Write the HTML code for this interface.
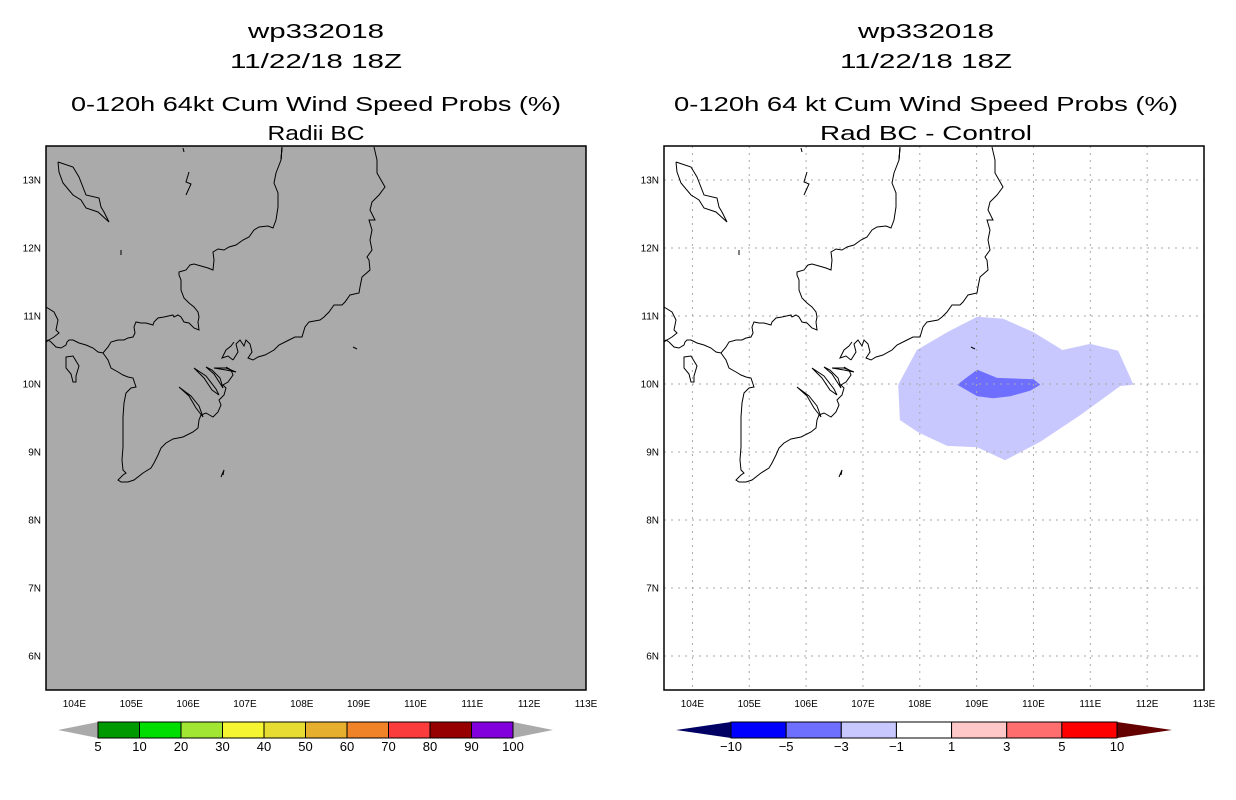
<!DOCTYPE html>
<html><head><meta charset="utf-8"><style>
body{margin:0;background:#fff;}
svg{display:block;font-family:"Liberation Sans",sans-serif;}
</style></head><body>
<svg id="chart" width="1236" height="800" viewBox="0 0 1236 800" xmlns="http://www.w3.org/2000/svg">
<defs>
<g id="coast" fill="none" stroke="#000" stroke-width="1">
<path d="M236,1 235,14 230,27 228,37 232,47 232,61 230,74 227,82 222,80 213,81 208,84 203,91 197,94 190,99 183,101 178,104 172,103 167,106 168,114 167,124 162,122 155,120 148,118 144,119 140,124 133,126 133,129 135,134 135,144 138,152 143,157 148,161 152,166 153,171 152,176 153,184 148,182 143,177 138,176 135,171 132,169 128,171 127,169 118,171 112,172 108,176 107,179 100,177 95,177 90,176 88,181 89,187 87,191 82,192 78,194 72,194 65,196 62,201 57,207 52,206 47,202 40,199 33,197 27,194 23,194 21,196 20,199 15,202 10,201 5,196 2,194 0,196"/>
<path d="M0,161 8,166 12,174 10,184 13,187 8,191 3,194 0,196"/>
<path d="M57,207 62,214 65,222 72,226 77,229 82,231 87,232 90,241 85,242 80,247 78,257 77,271 77,284 77,301 76,314 77,324 80,327 77,329 72,334 75,336 82,336 88,334 97,327 105,322 108,317 112,309 115,302 120,297 127,293 137,291 147,286 152,282 153,274 155,269 160,267 167,271 172,266 175,259 173,254 178,249 180,242 177,239 182,236 187,229 185,224 180,221"/>
<path d="M187,214 192,206 190,198 194,194 198,200 200,194 204,198 206,206 202,212 207,214 212,211 219,209 228,204 233,199 243,194 249,191 256,191 259,181 263,176 274,174 278,171 283,166 288,159 296,159 299,156 304,149 313,147 314,141 316,131 324,124 323,114 321,111 326,104 324,94 326,84 323,74 329,74 324,64 326,56 333,49 339,41 331,27 331,14 328,1"/>
<path d="M187,214 182,210 176,212 180,204 185,200 188,196"/>
<path d="M148,222 158,232 166,244 173,249 170,243 160,230 148,222Z"/>
<path d="M160,221 168,228 177,242 174,232 166,224 160,221Z"/>
<path d="M133,241 143,250 150,262 157,271 153,260 145,250 133,241Z"/>
<path d="M168,222 180,224 190,226 180,222Z"/>
<path d="M236,1 235,14"/>
<path d="M12,16 27,21 33,31 40,49 53,52 55,61 58,66 63,76 52,66 40,62 35,54 27,49 17,37 13,26 12,16"/>
<path d="M143,26 140,36 145,38 140,49"/>
<path d="M137,2 138,6"/>
<path d="M75,104 75,109"/>
<path d="M175,331 178,324 177,329"/>
<path d="M20,211 27,210 33,220 30,230 30,236 27,236 25,228 20,222 20,216Z"/>
<path d="M307,201 311,203"/>
<path d="M236,1 235,14"/>
</g>
</defs>
<g id="root"></g>
</svg>
<script>
// Map extent
const lonMin = 103.5, lonMax = 113, latMin = 5.5, latMax = 13.5;
const lonTicks = [104,105,106,107,108,109,110,111,112,113];
const latTicks = [6,7,8,9,10,11,12,13];
// Difference contours (lon, lat)
const contourMinus1Lon = [109.01,109.47,110.0,110.51,111.0,111.49,111.76,111.53,110.82,110.12,109.5,109.01,108.48,107.97,107.65,107.62,107.95,108.48];
const contourMinus1Lat = [10.99,10.96,10.76,10.5,10.59,10.49,9.99,9.97,9.54,9.15,8.88,9.07,9.09,9.29,9.47,9.99,10.5,10.76];
const contourMinus3Lon = [109.01,109.36,110.0,110.12,109.94,109.59,109.29,109.01,108.66,108.83];
const contourMinus3Lat = [10.21,10.09,10.07,9.99,9.9,9.82,9.79,9.82,9.99,10.1];
// Colorbars
const leftBarLabels = ["5","10","20","30","40","50","60","70","80","90","100"];
const leftBarColors = ["#009900","#00dd00","#a0e632","#f5f532","#e6dc32","#e6af2d","#f08228","#fa3c3c","#960000","#8200dc"];
const rightBarLabels = ["\u221210","\u22125","\u22123","\u22121","1","3","5","10"];
const rightBarColors = ["#0000ff","#6e6eff","#c8c8ff","#ffffff","#ffc8c8","#ff6e6e","#ff0000"];

const NS = "http://www.w3.org/2000/svg";
const root = document.getElementById('root');
function mk(tag, attrs, parent){const e=document.createElementNS(NS,tag);for(const k in attrs)e.setAttribute(k,attrs[k]);(parent||root).appendChild(e);return e;}
const PW = 540, PH = 544;
function xs(lon){return (lon-lonMin)/(lonMax-lonMin)*PW;}
function ys(lat){return (latMax-lat)/(latMax-latMin)*PH;}

function title(lines, cx, parentName){
  const ys_=[38,68,111,140];
  lines.forEach((l,i)=>{
    const t=mk('text',{x:cx,y:ys_[i],'text-anchor':'middle','font-size':20,fill:'#000',textLength:l[1],lengthAdjust:'spacingAndGlyphs'});
    t.textContent=l[0];
    
    
  });
}

function panel(px, py, name, bg, grid){
  const g=mk('g',{transform:`translate(${px},${py})`});
  
  
  const bgR=mk('rect',{x:0,y:0,width:PW,height:PH,fill:bg},g);
  
  
  return g;
}

function axes(g, px, py, name, grid){
  if(grid){
    lonTicks.slice(0,-1).forEach(v=>{const l=mk('line',{x1:xs(v),x2:xs(v),y1:0,y2:PH,stroke:'#aaa','stroke-dasharray':'2,5'},g);
      
      });
    latTicks.forEach(v=>{const l=mk('line',{x1:0,x2:PW,y1:ys(v),y2:ys(v),stroke:'#aaa','stroke-dasharray':'2,5'},g);
      
      });
  }
  const c=mk('use',{href:'#coast'},g);
  
  
  const b=mk('rect',{x:0,y:0,width:PW,height:PH,fill:'none',stroke:'#000','stroke-width':1.5},g);
  
  
  latTicks.forEach(v=>{const t=mk('text',{x:px-5,y:py+ys(v)+3.5,'text-anchor':'end','font-size':10,fill:'#000'});t.textContent=v+'N';
    
    });
  lonTicks.forEach(v=>{const t=mk('text',{x:px+xs(v),y:py+PH+17,'text-anchor':'middle','font-size':10,fill:'#000'});t.textContent=v+'E';
    
    });
}

function poly(g, lons, lats, fill, name){
  const pts=lons.map((v,i)=>xs(v).toFixed(1)+','+ys(lats[i]).toFixed(1)).join(' ');
  const p=mk('polygon',{points:pts,fill:fill},g);
  
  
}

function colorbar(x0, x1, y0, y1, tipL, tipR, colors, labels, lc, rc, name){
  const g=mk('g',{});
  
  
  const ym=(y0+y1)/2, w=(x1-x0)/colors.length;
  const tl=mk('polygon',{points:`${tipL},${ym} ${x0},${y0} ${x0},${y1}`,fill:lc},g);
  
  
  const tr=mk('polygon',{points:`${tipR},${ym} ${x1},${y0} ${x1},${y1}`,fill:rc},g);
  
  
  colors.forEach((c,i)=>{const r=mk('rect',{x:x0+i*w,y:y0,width:w,height:y1-y0,fill:c,stroke:'#000','stroke-width':1},g);
    
    });
  labels.forEach((l,i)=>{const t=mk('text',{x:x0+i*w,y:y1+13,'text-anchor':'middle','font-size':13,fill:'#000'},g);t.textContent=l;
    
    });
}

// Left panel
title([["wp332018",136],["11/22/18 18Z",172],["0-120h 64kt Cum Wind Speed Probs (%)",490],["Radii BC",97]],316,'left');
const gl=panel(46,146,'left-map','#aaaaaa');
axes(gl,46,146,'left-map',false);
colorbar(98,513,722,738,58,553,leftBarColors,leftBarLabels,'#aaaaaa','#aaaaaa','left-colorbar');

// Right panel
title([["wp332018",136],["11/22/18 18Z",172],["0-120h 64 kt Cum Wind Speed Probs (%)",504],["Rad BC - Control",212]],926,'right');
const gr=panel(664,146,'right-map','#ffffff');
poly(gr,contourMinus1Lon,contourMinus1Lat,'#c8c8ff','contour-minus-1');
poly(gr,contourMinus3Lon,contourMinus3Lat,'#6e6eff','contour-minus-3');
axes(gr,664,146,'right-map',true);
colorbar(731,1117,722,738,676,1172,rightBarColors,rightBarLabels,'#000064','#640000','right-colorbar');
</script>
</body></html>
